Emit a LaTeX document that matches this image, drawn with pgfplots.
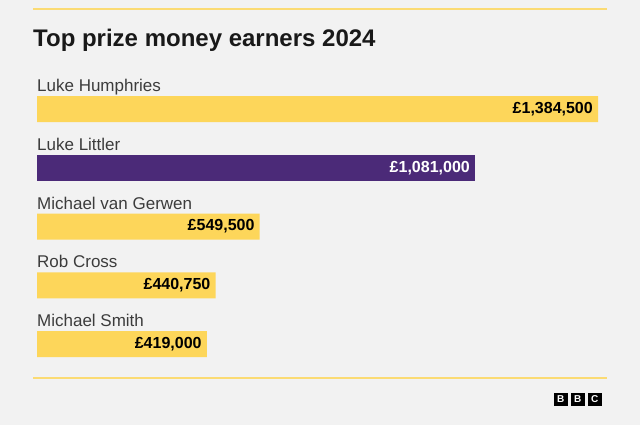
\documentclass[border=0pt]{standalone}
\usepackage{fontspec}
\setmainfont{Liberation Sans}
\usepackage{pgfplots}
\pgfplotsset{compat=1.18}
\usepackage{pgfplotstable}
\definecolor{bg}{HTML}{F2F2F2}
\definecolor{bbcyellow}{HTML}{FDD65A}
\definecolor{bbcpurple}{HTML}{4B2A78}
\definecolor{lineyellow}{HTML}{FBDB73}
\definecolor{namegray}{HTML}{3C3C3C}

\pgfplotstableread{
x y label
1384500 0 {£1,384,500}
549500 2 {£549,500}
440750 3 {£440,750}
419000 4 {£419,000}
}\yellowdata
\pgfplotstableread{
x y label
1081000 1 {£1,081,000}
}\purpledata

\begin{document}
\begin{tikzpicture}
\useasboundingbox (0pt,0pt) rectangle (640pt,425pt);
\fill[bg] (0pt,0pt) rectangle (640pt,425pt);
\draw[lineyellow, line width=2pt] (33pt,416pt) -- (607pt,416pt);
\draw[lineyellow, line width=1.5pt] (33pt,47pt) -- (607pt,47pt);
\node[anchor=base west, inner sep=0pt, font=\fontsize{24}{28}\selectfont\bfseries, text=black!90] at (33pt,378pt) {Top prize money earners 2024};
\begin{axis}[
  at={(37pt,345.25pt)}, anchor=north west,
  scale only axis, width=561pt, height=293.75pt,
  xmin=0, xmax=1384500, ymin=-0.5, ymax=4.5, y dir=reverse,
  hide axis, clip=false,
  xbar, bar width=26pt, bar shift=0pt,
  point meta=explicit symbolic,
  nodes near coords,
  nodes near coords align={anchor=east},
  every node near coord/.append style={xshift=-5pt, font=\fontsize{16}{19}\selectfont\bfseries, inner sep=0pt},
]
\addplot[fill=bbcyellow, draw=none, every node near coord/.append style={text=black}] table[x=x,y=y,meta=label] {\yellowdata};
\addplot[fill=bbcpurple, draw=none, every node near coord/.append style={text=white}] table[x=x,y=y,meta=label] {\purpledata};
\node[anchor=base west, inner sep=0pt, font=\fontsize{17}{20}\selectfont, text=namegray, yshift=17.5pt] at (axis cs:0,0) {Luke Humphries};
\node[anchor=base west, inner sep=0pt, font=\fontsize{17}{20}\selectfont, text=namegray, yshift=17.5pt] at (axis cs:0,1) {Luke Littler};
\node[anchor=base west, inner sep=0pt, font=\fontsize{17}{20}\selectfont, text=namegray, yshift=17.5pt] at (axis cs:0,2) {Michael van Gerwen};
\node[anchor=base west, inner sep=0pt, font=\fontsize{17}{20}\selectfont, text=namegray, yshift=17.5pt] at (axis cs:0,3) {Rob Cross};
\node[anchor=base west, inner sep=0pt, font=\fontsize{17}{20}\selectfont, text=namegray, yshift=17.5pt] at (axis cs:0,4) {Michael Smith};
\end{axis}
\foreach \x/\l in {554/B,571/B,588/C} {
  \fill[black] (\x pt,19pt) rectangle ++(13.5pt,13pt);
  \node[text=white, inner sep=0pt, font=\fontsize{10}{11}\selectfont\bfseries] at (\x pt+6.75pt,25.5pt) {\l};
}
\end{tikzpicture}
\end{document}
